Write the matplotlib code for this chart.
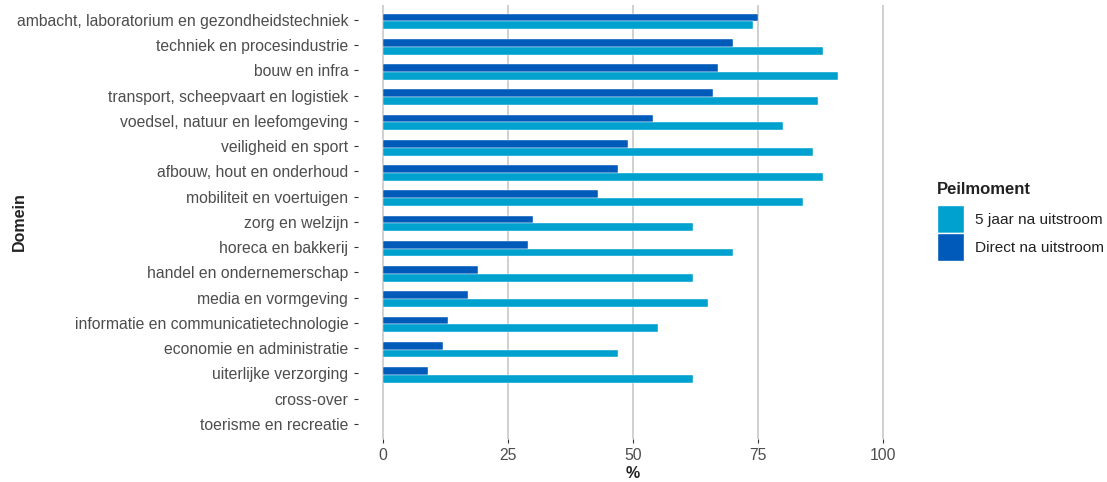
import matplotlib.pyplot as plt
import numpy as np
from matplotlib.patches import Patch

# -----------------------------
# DATA
# -----------------------------
domeinen = [
    "ambacht, laboratorium en gezondheidstechniek",
    "techniek en procesindustrie",
    "bouw en infra",
    "transport, scheepvaart en logistiek",
    "voedsel, natuur en leefomgeving",
    "veiligheid en sport",
    "afbouw, hout en onderhoud",
    "mobiliteit en voertuigen",
    "zorg en welzijn",
    "horeca en bakkerij",
    "handel en ondernemerschap",
    "media en vormgeving",
    "informatie en communicatietechnologie",
    "economie en administratie",
    "uiterlijke verzorging",
    "cross-over",
    "toerisme en recreatie",
]
direct = [75, 70, 67, 66, 54, 49, 47, 43, 30, 29, 19, 17, 13, 12, 9, np.nan, np.nan]
vijf_jaar = [74, 88, 91, 87, 80, 86, 88, 84, 62, 70, 62, 65, 55, 47, 62, np.nan, np.nan]
x_ticks = [0, 25, 50, 75, 100]

# -----------------------------
# STYLE
# -----------------------------
plt.rcParams['font.family'] = ['Liberation Sans', 'DejaVu Sans']
C_LIGHT = "#00A0CF"
C_DARK = "#005AB9"
TXT = "#4d4d4d"

fig = plt.figure(figsize=(11.07, 4.82), dpi=100)
ax = fig.add_axes([0.3234, 0.0892, 0.8198 - 0.3234, 0.990 - 0.0892])

n = len(domeinen)
pos = np.arange(n)
w = 0.31
ax.barh(pos - w / 2 + 0.06, direct, height=w, color=C_DARK, edgecolor="white", linewidth=0.3, zorder=2)
ax.barh(pos + w / 2 + 0.06, vijf_jaar, height=w, color=C_LIGHT, edgecolor="white", linewidth=0.3, zorder=2)

ax.set_xlim(-5, 105)
ax.set_ylim(n - 1 + 0.6, -0.6)
ax.set_xticks(x_ticks)
ax.set_xticklabels([str(t) for t in x_ticks])
ax.set_yticks(pos)
ax.set_yticklabels(domeinen)

ax.grid(axis="x", color="#c4c4c4", linewidth=1.1, zorder=0)
ax.grid(axis="y", visible=False)
for s in ax.spines.values():
    s.set_visible(False)
ax.tick_params(axis="both", colors="#333333", labelcolor=TXT, labelsize=11.3, length=3, width=0.8)
ax.tick_params(axis="y", pad=4)

ax.set_xlabel("%", fontsize=11.5, fontweight="bold", color="#222222", labelpad=2)
ax.set_ylabel("Domein", fontsize=11.5, fontweight="bold", color="#222222")
ax.yaxis.set_label_coords(-0.602, 0.5)

# legend on the right (title drawn separately for spacing)
fig.text(937 / 1107, 1 - 190 / 482, "Peilmoment", fontsize=12, fontweight="bold",
         color="#222222", ha="left", va="center")
handles = [Patch(facecolor=C_LIGHT, edgecolor="white"), Patch(facecolor=C_DARK, edgecolor="white")]
leg = fig.legend(handles, ["5 jaar na uitstroom", "Direct na uitstroom"],
                 loc="upper left", bbox_to_anchor=(0.841, 1 - 199 / 482), frameon=False,
                 handlelength=1.75, handleheight=2.4, handletextpad=0.7, labelspacing=0.02,
                 fontsize=11.1, borderaxespad=0)
for t in leg.get_texts():
    t.set_color("#222222")

plt.savefig("out.png", dpi=100)
plt.close()
